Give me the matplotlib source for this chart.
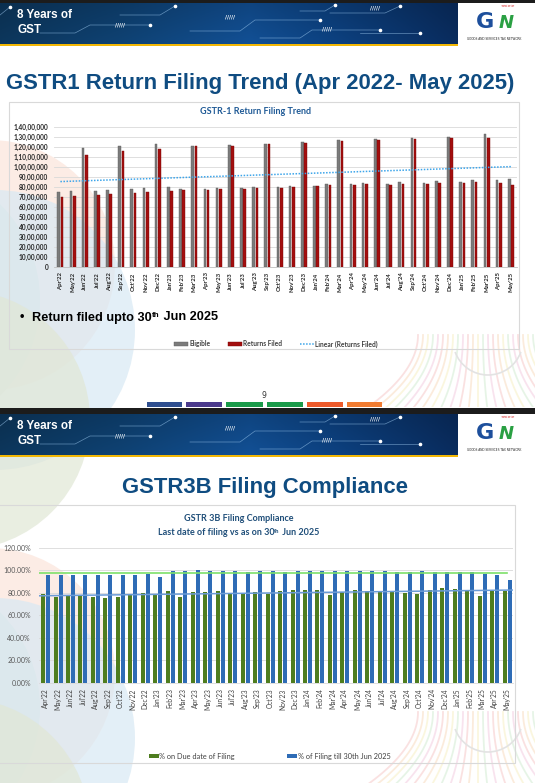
import numpy as np
import matplotlib
matplotlib.use('Agg')
import matplotlib.pyplot as plt
from matplotlib.patches import Rectangle, Circle, Arc

# ---- data -------------------------------------------------------------
months = ["Apr'22", "May'22", "Jun'22", "Jul'22", "Aug'22", "Sep'22", "Oct'22", "Nov'22",
          "Dec'22", "Jan'23", "Feb'23", "Mar'23", "Apr'23", "May'23", "Jun'23", "Jul'23",
          "Aug'23", "Sep'23", "Oct'23", "Nov'23", "Dec'23", "Jan'24", "Feb'24", "Mar'24",
          "Apr'24", "May'24", "Jun'24", "Jul'24", "Aug'24", "Sep'24", "Oct'24", "Nov'24",
          "Dec'24", "Jan'25", "Feb'25", "Mar'25", "Apr'25", "May'25"]

# GSTR-1, in lakh
eligible = [74.3, 75.3, 118.7, 75.7, 76.7, 120.7, 77.7, 78.3, 122.3, 80.0, 77.7, 120.7,
            77.7, 79.0, 121.7, 78.7, 79.7, 123.0, 79.7, 81.0, 124.7, 81.0, 82.3, 127.0,
            82.3, 83.7, 127.7, 82.7, 84.3, 129.0, 83.7, 85.3, 130.0, 85.0, 86.7, 132.3,
            86.7, 88.0]
filed = [69.7, 71.0, 111.7, 71.3, 72.7, 116.0, 74.0, 75.0, 118.0, 75.3, 76.7, 120.3,
         77.0, 78.0, 121.0, 78.0, 78.7, 122.3, 78.7, 80.0, 124.0, 80.7, 81.3, 126.0,
         81.7, 82.3, 126.7, 82.0, 82.7, 127.7, 82.7, 83.7, 129.0, 84.0, 84.7, 129.0,
         83.3, 82.0]
gstr1_yticks = ['0', '10,00,000', '20,00,000', '30,00,000', '40,00,000', '50,00,000',
                '60,00,000', '70,00,000', '80,00,000', '90,00,000', '1,00,00,000',
                '1,10,00,000', '1,20,00,000', '1,30,00,000', '1,40,00,000']

# GSTR-3B, percent
on_due = [78.6, 75.9, 77.4, 77.1, 76.2, 75.3, 75.9, 78.0, 79.5, 77.7, 81.5, 75.9,
          80.6, 80.6, 81.2, 80.0, 79.5, 80.3, 78.8, 81.5, 82.4, 82.4, 82.7, 78.0,
          80.3, 82.1, 81.8, 81.2, 80.3, 80.0, 78.6, 82.4, 83.9, 83.0, 82.1, 77.1,
          81.2, 81.8]
till_jun = [95.7, 95.7, 95.7, 95.7, 95.7, 95.7, 95.4, 95.7, 96.2, 94.2, 99.3, 99.3,
            99.9, 99.3, 99.6, 99.6, 98.7, 99.6, 99.3, 98.7, 99.6, 99.3, 99.3, 99.6,
            99.6, 99.0, 99.6, 99.3, 98.7, 98.7, 99.3, 98.7, 98.7, 98.7, 98.4, 96.6,
            95.7, 91.3]
gstr3b_yticks = ['0.00%', '20.00%', '40.00%', '60.00%', '80.00%', '100.00%', '120.00%']

W, H = 535, 783
fig = plt.figure(figsize=(W / 100, H / 100), dpi=100)
bg = fig.add_axes([0, 0, 1, 1])
bg.axis('off')
CHART_FONT = ['Lato', 'DejaVu Sans']
SLIDE_FONT = ['Liberation Sans', 'DejaVu Sans']


def box(x0, y0, x1, y1):
    return [x0 / W, 1 - y1 / H, (x1 - x0) / W, (y1 - y0) / H]


def rich(x, y, parts, ha='left', **kw):
    # parts: (text, size, raise in px)
    r = fig.canvas.get_renderer()
    widths = []
    for s, size, dy in parts:
        t = bg.text(0, 0, s, size=size, **kw)
        widths.append(t.get_window_extent(r).width)
        t.remove()
    if ha == 'center':
        x -= sum(widths) / 2
    for (s, size, dy), w in zip(parts, widths):
        bg.text(x, y - dy, s, size=size, va='baseline', **kw)
        x += w


def fan(xc, y0, y1, clip):
    # faint rainbow stripes in the lower right corner
    cols = ['#f6c9c9', '#f8dcc0', '#f7efc4', '#d3ecd3', '#f3cde0']
    t = np.linspace(0, 1, 40)
    for k in range(-12, 12):
        x0 = xc + k * 5
        xx = x0 + k * 4.5 * t ** 2
        ln, = bg.plot(xx, y0 + (y1 - y0) * t, color=cols[(k + 12) % 5], lw=1.3,
                      alpha=0.55, zorder=0)
        ln.set_clip_path(clip)
    a = Arc((xc + 10, y0 + 5), 70, 70, theta1=20, theta2=160, color='#e3e3e3', lw=1.2,
            zorder=0)
    a.set_clip_path(clip)
    bg.add_patch(a)


def slide_decor(oy, strip, bottom, fan_top):
    clip = Rectangle((0, oy), W, bottom - oy, transform=bg.transData)
    # faint circles bottom left
    for (cx, cy), rad, col in [((-10, 265), 125, '#fce4da'), ((-95, 300), 135, '#dde5da'),
                               ((-5, 330), 140, '#d8e9f4'), ((-40, 420), 130, '#e1e7d5')]:
        c = Circle((cx, oy + cy), rad, color=col, alpha=0.7, lw=0, zorder=0)
        c.set_clip_path(clip)
        bg.add_patch(c)
    fan(478, fan_top, fan_top + 75, clip)
    # header
    bg.add_patch(Rectangle((0, oy), W, strip, color='#1c1c1c', lw=0))
    top = oy + strip
    xs = np.linspace(0, 458, 300)
    stops = [0, 120, 250, 330, 458]
    cs = np.array([[12, 52, 88], [14, 63, 110], [17, 76, 142], [12, 63, 124], [9, 42, 90]]) / 255
    grad = np.stack([np.interp(xs, stops, cs[:, i]) for i in range(3)], axis=-1)
    grad = np.repeat(grad[None, :, :], 20, axis=0)
    grad *= np.linspace(0.9, 1.05, 20)[:, None, None]
    bg.imshow(np.clip(grad, 0, 1), extent=(0, 458, top + 41, top), aspect='auto', zorder=1)
    lines = [[(0, 12), (10, 4)], [(40, 30), (75, 30), (90, 22), (150, 22)],
             [(120, 12), (160, 12), (175, 3)], [(190, 28), (240, 28), (255, 17), (320, 17)],
             [(260, 35), (300, 35), (312, 27), (380, 27)], [(300, 8), (325, 8), (335, 2)],
             [(330, 10), (385, 10), (400, 3)], [(360, 30), (420, 30)]]
    for ln in lines:
        px, py = zip(*ln)
        bg.plot(px, [top + v for v in py], color='#9cc8ee', lw=0.5, alpha=0.6, zorder=2)
        bg.plot(px[-1], top + py[-1], 'o', ms=1.6, color='white', zorder=2)
    for hx, hy in [(115, 22), (225, 14), (322, 26), (370, 5)]:
        bg.text(hx, top + hy, '/////', color='white', size=4, weight='bold',
                va='center', zorder=2)
    bg.add_patch(Rectangle((0, top + 41), 458, 1.7, color='#f2b705', lw=0, zorder=2))
    bg.text(17, top + 12, '8 Years of', color='white', size=8.4, weight='bold',
            family=SLIDE_FONT, va='center', zorder=3)
    bg.text(17, top + 27, 'GST', color='white', size=8.4, weight='bold',
            family=SLIDE_FONT, va='center', zorder=3)
    # logo
    bg.text(485, top + 19, 'G', color='#1d4f9c', size=16, weight='bold',
            ha='center', va='center', zorder=3)
    bg.text(506, top + 20, 'N', color='#2aa043', size=13, weight='bold', style='italic',
            ha='center', va='center', zorder=3)
    bg.text(508, top + 3.5, '<<>>', color='#d62020', size=3.2, weight='bold',
            ha='center', va='center', zorder=3)
    bg.text(494, top + 36, 'GOODS AND SERVICES TAX NETWORK', color='#222222', size=2.1,
            ha='center', va='center', zorder=3)


slide_decor(0, 3, 407, 335)
slide_decor(408, 6, H, 712)

# slide titles
bg.text(260, 84, 'GSTR1 Return Filing Trend (Apr 2022- May 2025)', color='#0f4c81',
        size=15.9, weight='bold', family=SLIDE_FONT, ha='center', va='center', zorder=3)
bg.text(265, 488, 'GSTR3B Filing Compliance', color='#0f4c81', size=15.9,
        weight='bold', family=SLIDE_FONT, ha='center', va='center', zorder=3)

# footer of slide 1
bg.text(264, 395, '9', color='#333333', size=5.5, ha='center', va='center')
for x0, x1, col in [(147, 181.6, '#2f4f8f'), (185.7, 222, '#4b3a8c'), (226, 262.5, '#1a9a4a'),
                    (266.5, 302.7, '#1a9a4a'), (306.8, 343.3, '#ee5a2a'), (347, 382, '#f07b30')]:
    bg.add_patch(Rectangle((x0, 402), x1 - x0, 4.8, color=col, lw=0))

# ---- GSTR-1 chart -------------------------------------------------------
bg.add_patch(Rectangle((9, 102), 510, 247, fc='none', ec='#d9d9d9', lw=0.8, zorder=3))
bg.text(256, 111, 'GSTR-1 Return Filing Trend', color='#1f5a96', size=6.5,
        weight='bold', family=CHART_FONT, ha='center', va='center', zorder=3)

x = np.arange(len(months))
ax1 = fig.add_axes(box(54.3, 126.7, 517, 266.7))
ax1.set_facecolor('none')
b1 = ax1.bar(x - 0.135, np.array(eligible) * 1e5, width=0.22, color='#7b7b7b',
             edgecolor='#5d5d5d', lw=0.3, zorder=3)
b2 = ax1.bar(x + 0.135, np.array(filed) * 1e5, width=0.22, color='#a30e0e',
             edgecolor='#7c0505', lw=0.3, zorder=3)
coef = np.polyfit(x, filed, 1)
tl, = ax1.plot(x, np.polyval(coef, x) * 1e5, ls=(0, (1, 1)), color='#3da5ea', lw=1.1, zorder=4)
ax1.set_xlim(-0.5, 37.5)
ax1.set_ylim(0, 1.4e7)
ax1.set_yticks(np.arange(0, 1.41e7, 1e6))
ax1.set_yticklabels(gstr1_yticks, fontsize=4.7, fontweight='bold', color='#262626',
                    family=CHART_FONT)
ax1.set_xticks(x)
ax1.set_xticklabels(months, rotation=90, fontsize=4.3, fontweight='bold', color='#262626',
                    family=CHART_FONT)
ax1.tick_params(length=0, pad=4)
ax1.tick_params(axis='y', pad=4.3)
ax1.yaxis.grid(True, color='#d9d9d9', lw=0.6)
ax1.set_axisbelow(True)
for s in ['top', 'right', 'left']:
    ax1.spines[s].set_visible(False)
ax1.spines['bottom'].set_color('#bfbfbf')
ax1.spines['bottom'].set_linewidth(0.6)

fig.legend([b1, b2, tl], ['Eligible', 'Returns Filed', 'Linear (Returns Filed)'],
           loc='center', bbox_to_anchor=(276 / W, 1 - 344 / H), ncol=3, frameon=False,
           prop={'family': CHART_FONT, 'size': 4.8, 'weight': 'bold'}, labelcolor='#404040',
           handlelength=2.1, handleheight=0.45, handletextpad=0.2, columnspacing=2.6)

bg.text(20, 317, '\u2022', color='black', size=9, weight='bold', va='center',
        family=SLIDE_FONT)
rich(32.3, 320.5, [('Return filed upto 30', 9.2, 0), ('th', 5.8, 3.8), (' Jun 2025', 9.2, 0)],
     color='black', weight='bold', family=SLIDE_FONT)

# ---- GSTR-3B chart ------------------------------------------------------
bg.add_patch(Rectangle((-5, 505), 520, 258, fc='none', ec='#d9d9d9', lw=0.8, zorder=3))
bg.text(238.5, 518.3, 'GSTR 3B Filing Compliance', color='#1f4e79', size=6.5,
        weight='bold', family=CHART_FONT, ha='center', va='center', zorder=3)
rich(238.5, 535.2, [('Last date of filing vs as on 30', 6.5, 0), ('th', 4.2, 2.6),
                    (' Jun 2025', 6.5, 0)], ha='center', color='#1f4e79', weight='bold',
     family=CHART_FONT)

ax2 = fig.add_axes(box(39.3, 547.7, 513.3, 682.7))
ax2.set_facecolor('none')
g = ax2.bar(x - 0.2, on_due, width=0.32, color='#4e7d1f', zorder=3)
bl = ax2.bar(x + 0.2, till_jun, width=0.32, color='#2e6cb6', zorder=3)
ax2.plot([-0.5, 37.0], [np.mean(till_jun)] * 2, color='#7ee06a', lw=1.2, zorder=4)
xs_fit = np.array([-0.5, 37.5])
c2 = np.polyfit(x, on_due, 1)
ax2.plot(xs_fit, np.polyval(c2, xs_fit), color='#6b9bd6', lw=1.1, zorder=4)
ax2.set_xlim(-0.5, 37.5)
ax2.set_ylim(0, 120)
ax2.set_yticks(np.arange(0, 121, 20))
ax2.set_yticklabels(gstr3b_yticks, fontsize=5, color='#595959', family=CHART_FONT)
ax2.set_xticks(x)
ax2.set_xticklabels(months, rotation=90, fontsize=4.8, color='#404040', family=CHART_FONT)
ax2.tick_params(length=0, pad=4)
ax2.tick_params(axis='y', pad=6)
ax2.yaxis.grid(True, color='#d9d9d9', lw=0.6)
ax2.set_axisbelow(True)
for s in ['top', 'right', 'left']:
    ax2.spines[s].set_visible(False)
ax2.spines['bottom'].set_color('#d9d9d9')
ax2.spines['bottom'].set_linewidth(0.6)

fig.legend([g, bl], ['% on Due date of Filing', '% of Filing till 30th Jun 2025'],
           loc='center', bbox_to_anchor=(269.6 / W, 1 - 756 / H), ncol=2, frameon=False,
           prop={'family': CHART_FONT, 'size': 5.3}, labelcolor='#404040',
           handlelength=1.36, handleheight=0.55, handletextpad=0.1, columnspacing=7.1)

bg.set_xlim(0, W)
bg.set_ylim(H, 0)
fig.savefig('out.png', dpi=100)
